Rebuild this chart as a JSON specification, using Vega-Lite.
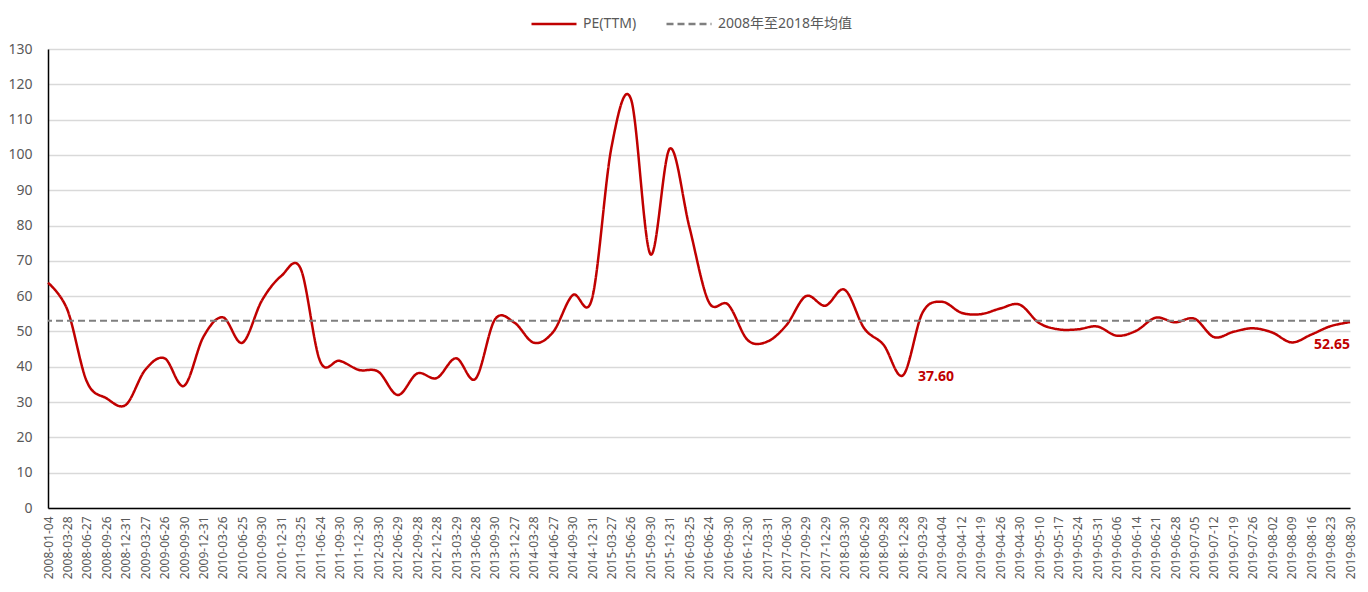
{
  "$schema": "https://vega.github.io/schema/vega-lite/v6.json",
  "width": 1302,
  "height": 459,
  "autosize": "none",
  "padding": {"left": 48, "top": 49, "right": 18, "bottom": 84},
  "background": "white",
  "config": {"view": {"stroke": null}, "font": "Noto Sans, Noto Sans CJK SC"},
  "datasets": {
    "pe": [
      {"date": "2008-01-04", "pe": 63.8, "series": "PE(TTM)"},
      {"date": "2008-03-28", "pe": 56.1, "series": "PE(TTM)"},
      {"date": "2008-06-27", "pe": 35.8, "series": "PE(TTM)"},
      {"date": "2008-09-26", "pe": 31.1, "series": "PE(TTM)"},
      {"date": "2008-12-31", "pe": 29.2, "series": "PE(TTM)"},
      {"date": "2009-03-27", "pe": 39.1, "series": "PE(TTM)"},
      {"date": "2009-06-26", "pe": 42.4, "series": "PE(TTM)"},
      {"date": "2009-09-30", "pe": 34.6, "series": "PE(TTM)"},
      {"date": "2009-12-31", "pe": 48.5, "series": "PE(TTM)"},
      {"date": "2010-03-26", "pe": 54.0, "series": "PE(TTM)"},
      {"date": "2010-06-25", "pe": 46.8, "series": "PE(TTM)"},
      {"date": "2010-09-30", "pe": 58.7, "series": "PE(TTM)"},
      {"date": "2010-12-31", "pe": 65.7, "series": "PE(TTM)"},
      {"date": "2011-03-25", "pe": 67.8, "series": "PE(TTM)"},
      {"date": "2011-06-24", "pe": 41.6, "series": "PE(TTM)"},
      {"date": "2011-09-30", "pe": 41.7, "series": "PE(TTM)"},
      {"date": "2011-12-30", "pe": 39.1, "series": "PE(TTM)"},
      {"date": "2012-03-30", "pe": 38.6, "series": "PE(TTM)"},
      {"date": "2012-06-29", "pe": 32.0, "series": "PE(TTM)"},
      {"date": "2012-09-28", "pe": 38.1, "series": "PE(TTM)"},
      {"date": "2012-12-28", "pe": 36.8, "series": "PE(TTM)"},
      {"date": "2013-03-29", "pe": 42.4, "series": "PE(TTM)"},
      {"date": "2013-06-28", "pe": 36.6, "series": "PE(TTM)"},
      {"date": "2013-09-30", "pe": 53.4, "series": "PE(TTM)"},
      {"date": "2013-12-27", "pe": 52.5, "series": "PE(TTM)"},
      {"date": "2014-03-28", "pe": 46.8, "series": "PE(TTM)"},
      {"date": "2014-06-27", "pe": 49.9, "series": "PE(TTM)"},
      {"date": "2014-09-30", "pe": 60.3, "series": "PE(TTM)"},
      {"date": "2014-12-31", "pe": 59.4, "series": "PE(TTM)"},
      {"date": "2015-03-27", "pe": 102.3, "series": "PE(TTM)"},
      {"date": "2015-06-26", "pe": 115.8, "series": "PE(TTM)"},
      {"date": "2015-09-30", "pe": 71.9, "series": "PE(TTM)"},
      {"date": "2015-12-31", "pe": 101.8, "series": "PE(TTM)"},
      {"date": "2016-03-25", "pe": 79.7, "series": "PE(TTM)"},
      {"date": "2016-06-24", "pe": 58.4, "series": "PE(TTM)"},
      {"date": "2016-09-30", "pe": 57.6, "series": "PE(TTM)"},
      {"date": "2016-12-30", "pe": 47.6, "series": "PE(TTM)"},
      {"date": "2017-03-31", "pe": 47.1, "series": "PE(TTM)"},
      {"date": "2017-06-30", "pe": 51.8, "series": "PE(TTM)"},
      {"date": "2017-09-29", "pe": 60.0, "series": "PE(TTM)"},
      {"date": "2017-12-29", "pe": 57.3, "series": "PE(TTM)"},
      {"date": "2018-03-30", "pe": 61.8, "series": "PE(TTM)"},
      {"date": "2018-06-29", "pe": 50.9, "series": "PE(TTM)"},
      {"date": "2018-09-28", "pe": 46.2, "series": "PE(TTM)"},
      {"date": "2018-12-28", "pe": 37.6, "series": "PE(TTM)"},
      {"date": "2019-03-29", "pe": 55.3, "series": "PE(TTM)"},
      {"date": "2019-04-04", "pe": 58.4, "series": "PE(TTM)"},
      {"date": "2019-04-12", "pe": 55.3, "series": "PE(TTM)"},
      {"date": "2019-04-19", "pe": 54.9, "series": "PE(TTM)"},
      {"date": "2019-04-26", "pe": 56.5, "series": "PE(TTM)"},
      {"date": "2019-04-30", "pe": 57.6, "series": "PE(TTM)"},
      {"date": "2019-05-10", "pe": 52.4, "series": "PE(TTM)"},
      {"date": "2019-05-17", "pe": 50.6, "series": "PE(TTM)"},
      {"date": "2019-05-24", "pe": 50.6, "series": "PE(TTM)"},
      {"date": "2019-05-31", "pe": 51.4, "series": "PE(TTM)"},
      {"date": "2019-06-06", "pe": 48.8, "series": "PE(TTM)"},
      {"date": "2019-06-14", "pe": 50.2, "series": "PE(TTM)"},
      {"date": "2019-06-21", "pe": 53.9, "series": "PE(TTM)"},
      {"date": "2019-06-28", "pe": 52.6, "series": "PE(TTM)"},
      {"date": "2019-07-05", "pe": 53.6, "series": "PE(TTM)"},
      {"date": "2019-07-12", "pe": 48.4, "series": "PE(TTM)"},
      {"date": "2019-07-19", "pe": 49.9, "series": "PE(TTM)"},
      {"date": "2019-07-26", "pe": 50.9, "series": "PE(TTM)"},
      {"date": "2019-08-02", "pe": 49.7, "series": "PE(TTM)"},
      {"date": "2019-08-09", "pe": 46.9, "series": "PE(TTM)"},
      {"date": "2019-08-16", "pe": 49.1, "series": "PE(TTM)"},
      {"date": "2019-08-23", "pe": 51.5, "series": "PE(TTM)"},
      {"date": "2019-08-30", "pe": 52.65, "series": "PE(TTM)"}
    ],
    "mean": [{"series": "2008年至2018年均值", "pe": 53.0}]
  },
  "encoding": {
    "y": {
      "field": "pe", "type": "quantitative",
      "scale": {"domain": [0, 130], "nice": false},
      "axis": {
        "title": null, "values": [0, 10, 20, 30, 40, 50, 60, 70, 80, 90, 100, 110, 120, 130],
        "grid": true, "gridColor": "#d9d9d9", "gridWidth": 1.5,
        "domainColor": "#000000", "domainWidth": 1.5, "ticks": false,
        "labelPadding": 16, "labelFontSize": 14, "labelColor": "#595959",
        "labelOverlap": false
      }
    }
  },
  "layer": [
    {
      "data": {"name": "pe"},
      "mark": {"type": "line", "interpolate": "cardinal", "tension": 0, "strokeWidth": 2.5},
      "encoding": {
        "x": {
          "field": "date", "type": "ordinal", "sort": null,
          "scale": {"type": "point", "padding": 0},
          "axis": {
            "title": null, "labelAngle": -90, "ticks": false, "grid": false,
            "domainColor": "#000000", "domainWidth": 1.5,
            "labelPadding": 8, "labelFontSize": 12, "labelColor": "#595959",
            "labelOverlap": false
          }
        },
        "color": {
          "field": "series", "type": "nominal",
          "scale": {"domain": ["PE(TTM)", "2008年至2018年均值"], "range": ["#c00000", "#7f7f7f"]},
          "legend": {
            "title": null, "orient": "none", "legendX": 482, "legendY": -49,
            "direction": "horizontal", "symbolType": "stroke", "symbolSize": 2025,
            "symbolStrokeWidth": 2.5, "labelFontSize": 14, "labelColor": "#595959",
            "labelOffset": 5, "columnPadding": 24
          }
        },
        "strokeDash": {
          "field": "series", "type": "nominal",
          "scale": {"domain": ["PE(TTM)", "2008年至2018年均值"], "range": [[1, 0], [7, 4]]},
          "legend": {
            "title": null, "orient": "none", "legendX": 482, "legendY": -49,
            "direction": "horizontal", "symbolType": "stroke", "symbolSize": 2025,
            "symbolStrokeWidth": 2.5, "labelFontSize": 14, "labelColor": "#595959",
            "labelOffset": 5, "columnPadding": 24
          }
        }
      }
    },
    {
      "data": {"name": "mean"},
      "mark": {"type": "rule", "strokeWidth": 2},
      "encoding": {
        "color": {"field": "series", "type": "nominal"},
        "strokeDash": {"field": "series", "type": "nominal"}
      }
    },
    {
      "data": {"name": "pe"},
      "transform": [{"filter": {"field": "date", "equal": "2018-12-28"}}],
      "mark": {"type": "text", "align": "left", "baseline": "middle", "dx": 15, "dy": 2, "fontSize": 14, "fontWeight": "bold", "color": "#c00000"},
      "encoding": {
        "x": {"field": "date", "type": "ordinal", "sort": null},
        "text": {"field": "pe", "type": "quantitative", "format": ".2f"}
      }
    },
    {
      "data": {"name": "pe"},
      "transform": [{"filter": {"field": "date", "equal": "2019-08-30"}}],
      "mark": {"type": "text", "align": "right", "baseline": "middle", "dx": 0, "dy": 23, "fontSize": 14, "fontWeight": "bold", "color": "#c00000"},
      "encoding": {
        "x": {"field": "date", "type": "ordinal", "sort": null},
        "text": {"field": "pe", "type": "quantitative", "format": ".2f"}
      }
    }
  ]
}
